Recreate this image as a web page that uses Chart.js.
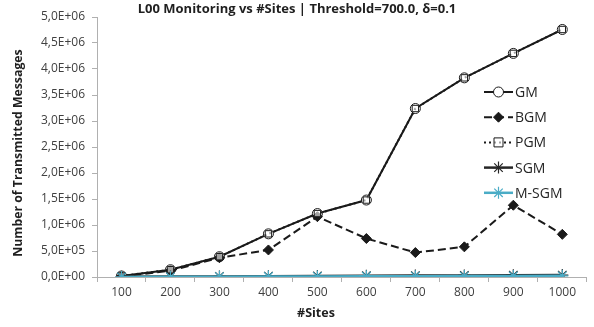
<!DOCTYPE html>
<html>
<head>
<meta charset="utf-8">
<script src="https://cdn.jsdelivr.net/npm/chart.js@4/dist/chart.umd.min.js"></script>
<style>
  html, body { margin: 0; padding: 0; background: #ffffff; }
  #wrap { width: 594px; height: 327px; position: relative; }
</style>
</head>
<body>
<div id="wrap"><canvas id="chart" width="594" height="327"></canvas></div>
<script>
// Number of sites on the x axis
const sites = ['100', '200', '300', '400', '500', '600', '700', '800', '900', '1000'];

// Transmitted messages per protocol
const gm   = [0.02e6, 0.14e6, 0.39e6, 0.83e6, 1.22e6, 1.48e6, 3.24e6, 3.83e6, 4.30e6, 4.76e6];
const bgm  = [0.01e6, 0.12e6, 0.37e6, 0.52e6, 1.16e6, 0.74e6, 0.47e6, 0.58e6, 1.38e6, 0.82e6];
const pgm  = [0.02e6, 0.14e6, 0.39e6, 0.83e6, 1.22e6, 1.48e6, 3.24e6, 3.83e6, 4.30e6, 4.76e6];
const sgm  = [4e3, 8e3, 12e3, 16e3, 20e3, 24e3, 28e3, 31e3, 34e3, 37e3];
const msgm = [2e3, 4e3, 6e3, 9e3, 12e3, 14e3, 16e3, 18e3, 20e3, 22e3];

const seriesNames = ['GM', 'BGM', 'PGM', 'SGM', 'M-SGM'];

const titleText = 'L00 Monitoring vs #Sites | Threshold=700.0, \u03B4=0.1';
const yTitle = 'Number of Transmitted Messages';
const xTitle = '#Sites';

const FONT = "'Open Sans', 'DejaVu Sans', sans-serif";
const CYAN = '#4aacc6';

// "5,0E+06" style scientific labels
function sciLabel(v) {
  if (v === 0) return '0,0E+00';
  const e = Math.floor(Math.log10(Math.abs(v)));
  const m = v / Math.pow(10, e);
  const exp = (e < 0 ? '-' : '+') + String(Math.abs(e)).padStart(2, '0');
  return m.toFixed(1).replace('.', ',') + 'E' + exp;
}

function drawMarker(ctx, style, x, y, r, fill, stroke, lw) {
  ctx.save();
  ctx.lineWidth = lw;
  ctx.strokeStyle = stroke;
  ctx.fillStyle = fill;
  ctx.setLineDash([]);
  ctx.beginPath();
  if (style === 'circle') {
    ctx.arc(x, y, r, 0, Math.PI * 2);
    ctx.fill(); ctx.stroke();
  } else if (style === 'rect') {
    ctx.rect(x - r, y - r, 2 * r, 2 * r);
    ctx.fill(); ctx.stroke();
  } else if (style === 'rectRot') {
    ctx.moveTo(x, y - r); ctx.lineTo(x + r, y); ctx.lineTo(x, y + r); ctx.lineTo(x - r, y);
    ctx.closePath();
    ctx.fill(); ctx.stroke();
  } else if (style === 'star') {
    ctx.moveTo(x - r, y); ctx.lineTo(x + r, y);
    ctx.moveTo(x, y - r); ctx.lineTo(x, y + r);
    const d = r * 0.7071;
    ctx.moveTo(x - d, y - d); ctx.lineTo(x + d, y + d);
    ctx.moveTo(x - d, y + d); ctx.lineTo(x + d, y - d);
    ctx.stroke();
  }
  ctx.restore();
}

// Titles and legend drawn on top of the plot
const decor = {
  id: 'decor',
  afterDraw(chart) {
    const ctx = chart.ctx;
    ctx.save();
    ctx.fillStyle = '#1f1f1f';
    ctx.textAlign = 'center';
    ctx.textBaseline = 'middle';
    ctx.font = 'bold 13px ' + FONT;
    ctx.fillText(titleText, 297, 9);

    ctx.font = 'bold 12.5px ' + FONT;
    ctx.fillText(xTitle, 316, 313);

    ctx.save();
    ctx.translate(18, 153);
    ctx.rotate(-Math.PI / 2);
    ctx.font = 'bold 12.3px ' + FONT;
    ctx.fillText(yTitle, 0, 0);
    ctx.restore();

    // legend
    ctx.font = '14px ' + FONT;
    ctx.textAlign = 'left';
    chart.data.datasets.forEach((ds, i) => {
      const y = 92 + i * 25.2;
      const x0 = 484, x1 = 513, xm = 498.5;
      ctx.save();
      ctx.strokeStyle = ds.borderColor;
      ctx.lineWidth = ds.borderWidth;
      ctx.setLineDash(ds.borderDash || []);
      ctx.beginPath();
      ctx.moveTo(x0, y); ctx.lineTo(x1, y);
      ctx.stroke();
      ctx.restore();
      drawMarker(ctx, ds.pointStyle, xm, y, ds.pointRadius, ds.pointBackgroundColor,
                 ds.pointBorderColor, ds.pointBorderWidth);
      ctx.fillStyle = '#262626';
      ctx.fillText(ds.label, 515, y + 1);
    });
    ctx.restore();
  }
};

new Chart(document.getElementById('chart'), {
  type: 'line',
  data: {
    labels: sites,
    datasets: [
      { label: seriesNames[0], data: gm, order: 4, borderColor: '#1a1a1a', borderWidth: 2,
        pointStyle: 'circle', pointRadius: 5, pointBackgroundColor: '#ffffff',
        pointBorderColor: '#1a1a1a', pointBorderWidth: 1 },
      { label: seriesNames[1], data: bgm, order: 3, borderColor: '#1a1a1a', borderWidth: 2,
        borderDash: [8, 4], pointStyle: 'rectRot', pointRadius: 5, pointBackgroundColor: '#1a1a1a',
        pointBorderColor: '#1a1a1a', pointBorderWidth: 1 },
      { label: seriesNames[2], data: pgm, order: 2, borderColor: '#1a1a1a', borderWidth: 2,
        borderDash: [2, 3], pointStyle: 'rect', pointRadius: 4.5, pointBackgroundColor: 'rgba(255,255,255,0.6)',
        pointBorderColor: '#1a1a1a', pointBorderWidth: 1 },
      { label: seriesNames[3], data: sgm, order: 1, borderColor: '#262626', borderWidth: 2.5,
        pointStyle: 'star', pointRadius: 6, pointBackgroundColor: '#262626',
        pointBorderColor: '#262626', pointBorderWidth: 1.2 },
      { label: seriesNames[4], data: msgm, order: 0, borderColor: CYAN, borderWidth: 2.5,
        pointStyle: 'star', pointRadius: 6, pointBackgroundColor: CYAN,
        pointBorderColor: CYAN, pointBorderWidth: 1.2 }
    ]
  },
  options: {
    responsive: false,
    animation: false,
    layout: { padding: { left: 0, top: 17, right: 4, bottom: 0 } },
    plugins: { legend: { display: false }, title: { display: false }, tooltip: { enabled: false } },
    elements: { line: { tension: 0 } },
    scales: {
      x: {
        offset: true,
        grid: { offset: true, drawOnChartArea: false, color: '#b0b0b0', tickLength: 5, tickColor: '#b0b0b0' },
        border: { color: '#b0b0b0', width: 1 },
        ticks: { color: '#404040', font: { family: FONT, size: 12 }, padding: 3, maxRotation: 0, autoSkip: false },
        afterFit(scale) { scale.height = 50; }
      },
      y: {
        min: 0, max: 5e6,
        grid: { drawOnChartArea: false, color: '#b0b0b0', tickLength: 5, tickColor: '#b0b0b0' },
        border: { color: '#b0b0b0', width: 1 },
        ticks: { stepSize: 5e5, color: '#404040', font: { family: FONT, size: 12 }, padding: 7,
                 callback: (v) => sciLabel(v) },
        afterFit(scale) { scale.width = 97; }
      }
    }
  },
  plugins: [decor]
});
</script>
</body>
</html>
